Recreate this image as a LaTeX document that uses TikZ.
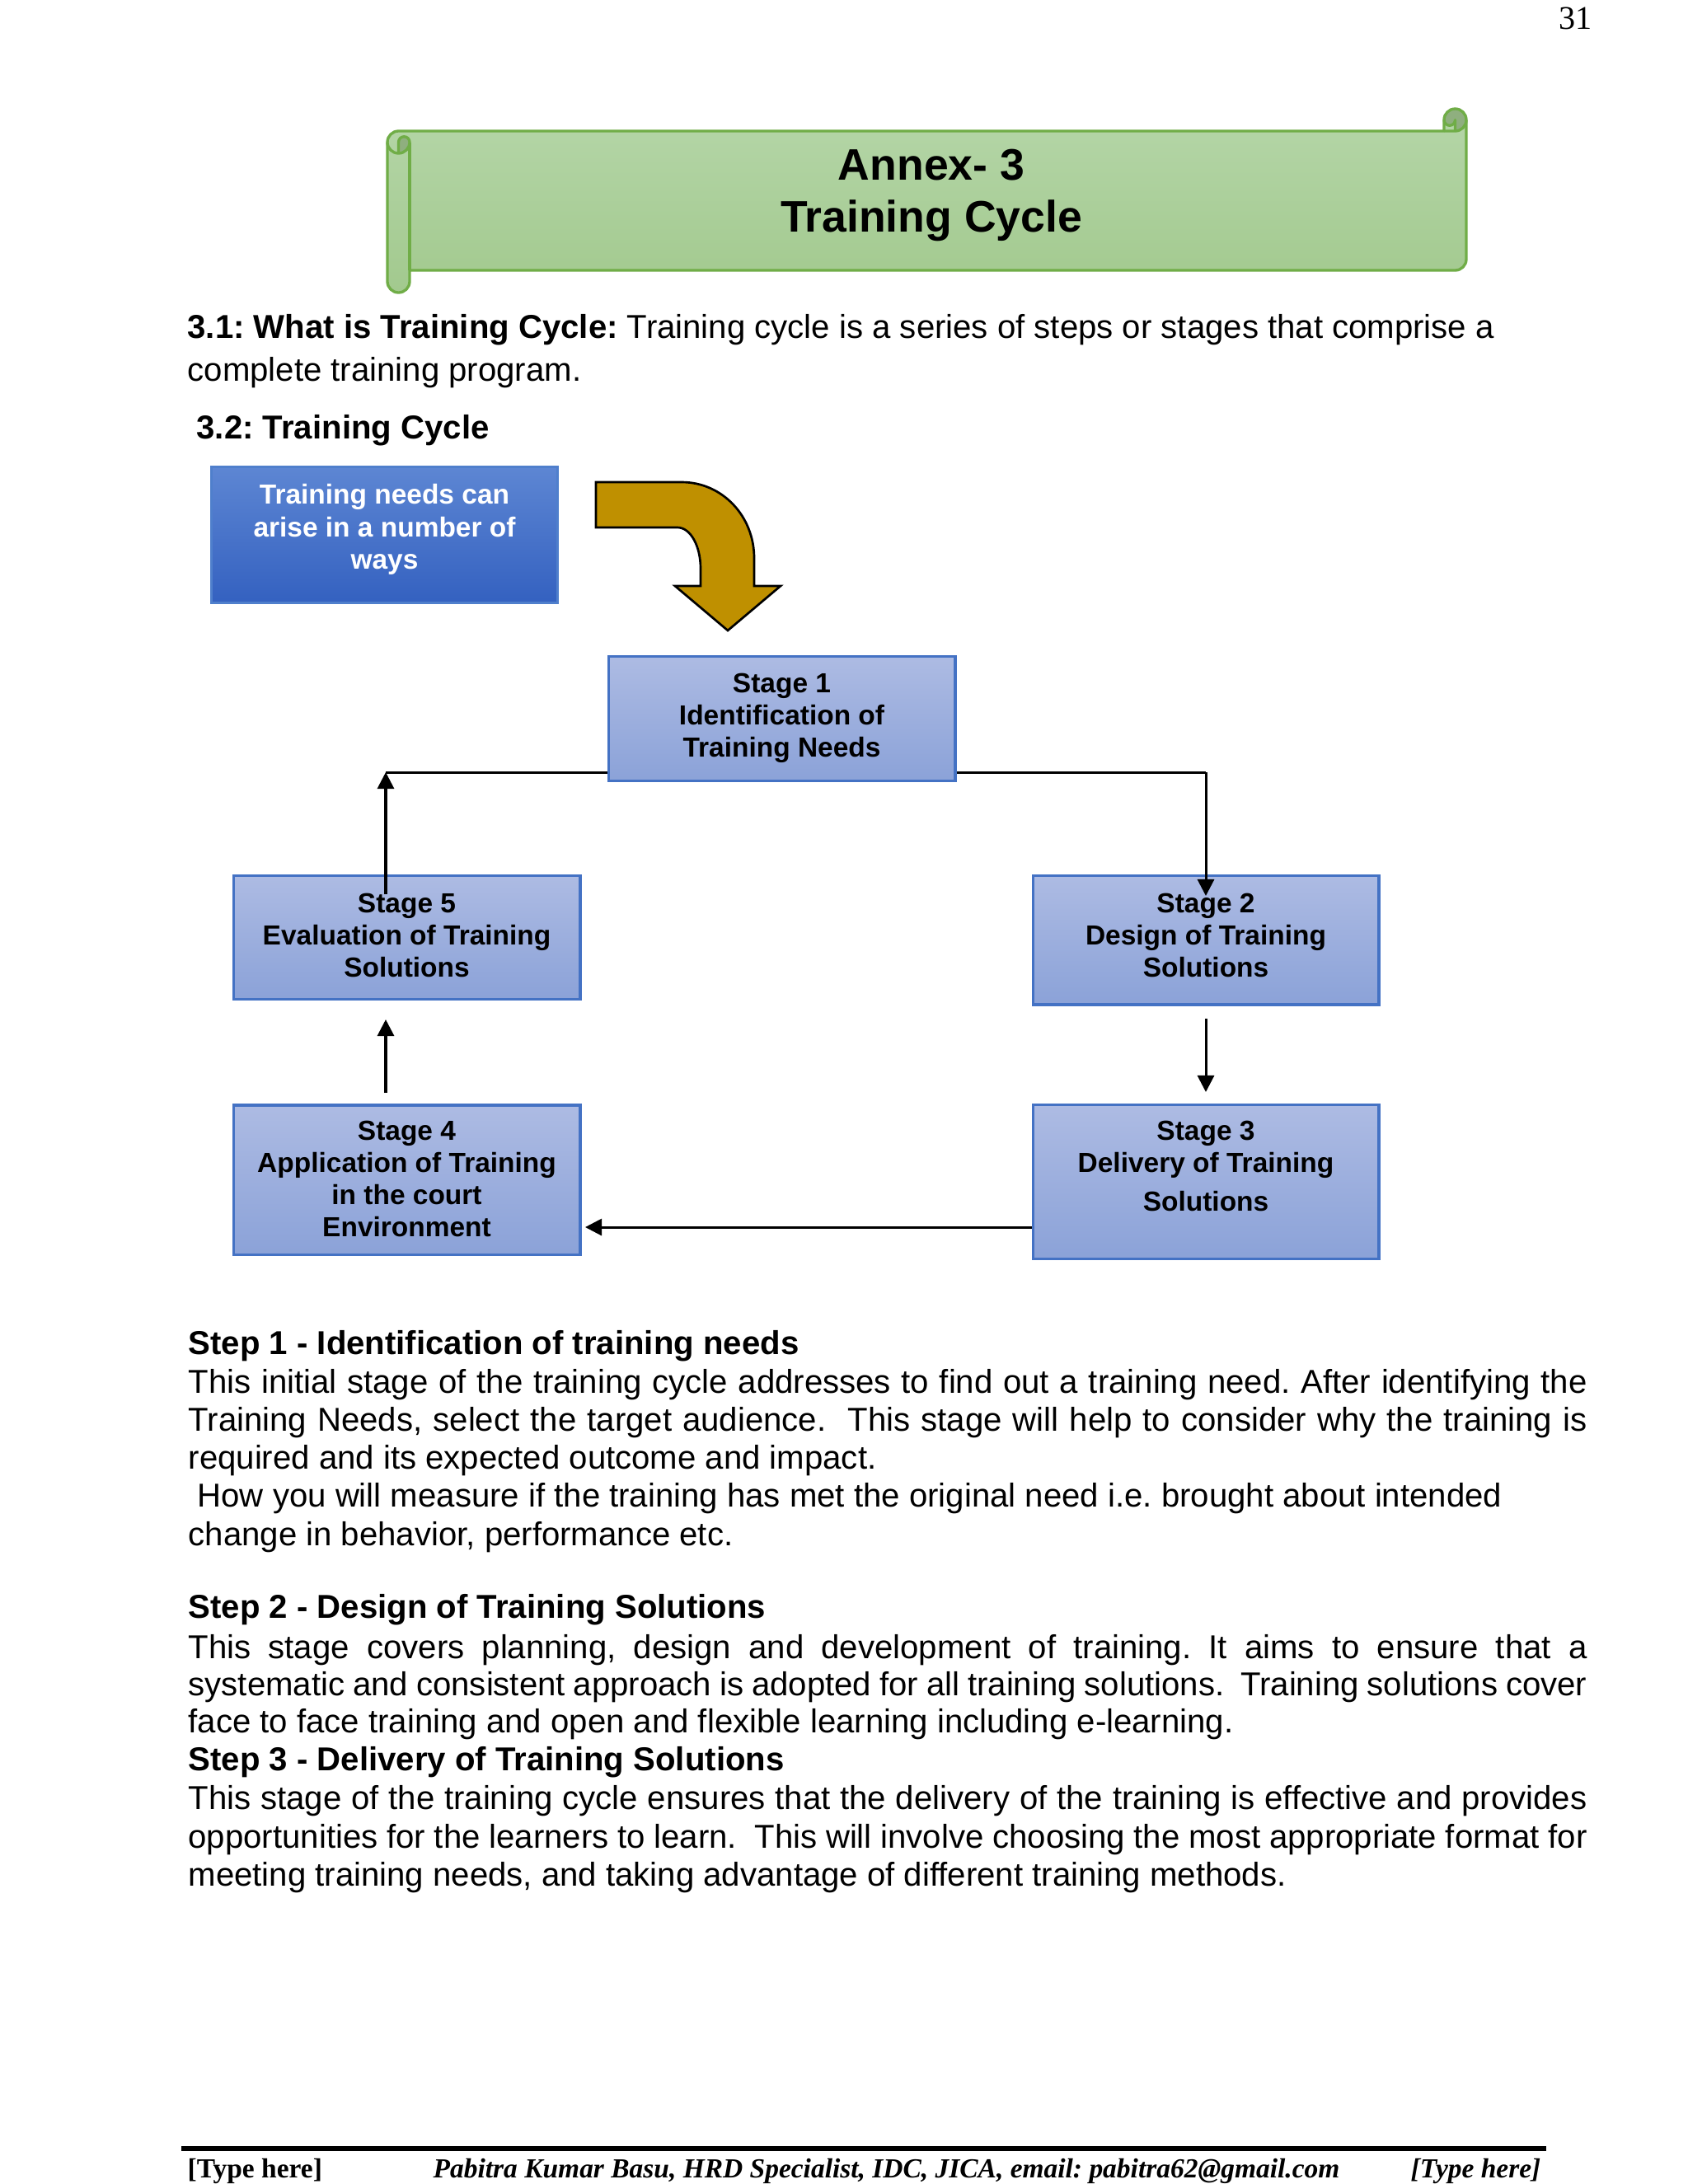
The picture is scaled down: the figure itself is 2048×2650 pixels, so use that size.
\documentclass[tikz,border=0pt]{standalone}
\usepackage{fontspec}
\setmainfont{Liberation Sans}
\newfontfamily\timesf{Liberation Serif}
\usetikzlibrary{arrows.meta}
\definecolor{scrollline}{HTML}{70AD47}
\definecolor{scrolltop}{HTML}{B5D6A8}
\definecolor{scrollbot}{HTML}{A2C98E}
\definecolor{scrolldark}{HTML}{8FAF7F}
\definecolor{stagetop}{HTML}{ADBBE3}
\definecolor{stagebot}{HTML}{8BA2D8}
\definecolor{stageline}{HTML}{4472C4}
\definecolor{needtop}{HTML}{5D86D3}
\definecolor{needbot}{HTML}{3461C0}
\definecolor{needline}{HTML}{4F7FCC}
\definecolor{arrowgold}{HTML}{BF9000}
\newcommand\jl[1]{\makebox[507.1pt][s]{#1}}
\frenchspacing
\begin{document}
\begin{tikzpicture}[x=0.298828pt,y=0.298828pt,
  stagebox/.style={draw=stageline, line width=0.9pt, top color=stagetop, bottom color=stagebot, inner sep=0pt, minimum width=125.8pt},
  needbox/.style={draw=needline, line width=0.9pt, top color=needtop, bottom color=needbot, inner sep=0pt, minimum width=125.8pt},
  stagetxt/.style={font=\fontsize{10}{11.7}\selectfont\bfseries, align=center, anchor=north, inner sep=0pt},
  body/.style={anchor=base west, inner sep=0pt, font=\fontsize{12}{14}\selectfont},
  head/.style={anchor=base west, inner sep=0pt, font=\fontsize{12}{14}\selectfont\bfseries},
  foot/.style={inner sep=0pt, font=\timesf\fontsize{10}{12}\selectfont\bfseries},
  ln/.style={line width=0.9pt},
  arr/.style={line width=0.9pt, -{Triangle[width=6pt,length=6pt]}}
]
\def\ra{4.034pt}
\def\rb{2.017pt}
\fill[white] (0,0) rectangle (2048,-2650);
\useasboundingbox (0,0) rectangle (2048,-2650);

% page number
\node[anchor=base west, inner sep=0pt, font=\timesf\fontsize{12}{14}\selectfont] (pnum) at (1891,-35) {31};

% scroll banner
\path[top color=scrolltop,bottom color=scrollbot] (470,-172.5) arc[start angle=180,end angle=90,radius=\ra] -- (1752,-159) -- (1752,-145.5) arc[start angle=180,end angle=0,radius=\ra] -- (1779,-314.5) arc[start angle=0,end angle=-90,radius=\ra] -- (497,-328) -- (497,-341.5) arc[start angle=0,end angle=-180,radius=\ra] -- cycle;
\fill[scrolldark] (483.5,-186) arc[start angle=-90,end angle=0,radius=\ra] arc[start angle=0,end angle=180,radius=\rb] -- cycle;
\fill[scrolldark] (1765.5,-159) arc[start angle=-90,end angle=180,radius=\ra] arc[start angle=180,end angle=360,radius=\rb] -- cycle;
\begin{scope}[draw=scrollline, line width=1pt, line join=round]
\draw (470,-172.5) arc[start angle=180,end angle=90,radius=\ra] -- (1752,-159) -- (1752,-145.5) arc[start angle=180,end angle=0,radius=\ra] -- (1779,-314.5) arc[start angle=0,end angle=-90,radius=\ra] -- (497,-328) -- (497,-341.5) arc[start angle=0,end angle=-180,radius=\ra] -- cycle;
\draw (1752,-159) -- (1765.5,-159) arc[start angle=-90,end angle=0,radius=\ra];
\draw (1765.5,-159) -- (1765.5,-145.5) arc[start angle=0,end angle=-180,radius=\rb];
\draw (483.5,-186) -- (483.5,-172.5) arc[start angle=180,end angle=0,radius=\rb] arc[start angle=0,end angle=-180,radius=\ra];
\draw (497,-172.5) -- (497,-328);
\end{scope}
\node[anchor=base, inner sep=0pt, font=\fontsize{16}{18}\selectfont\bfseries] (annex) at (1130,-218) {Annex- 3};
\node[anchor=base, inner sep=0pt, font=\fontsize{16}{18}\selectfont\bfseries] (title) at (1130,-281) {Training Cycle};

% intro text
\node[body] (p1a) at (227,-410) {\textbf{3.1: What is Training Cycle:} Training cycle is a series of steps or stages that comprise a};
\node[body] (p1b) at (227,-462) {complete training program.};
\node[head] (h32) at (238,-532) {3.2: Training Cycle};

% diagram
\node[needbox, minimum height=49.3pt] (need) at (466.5,-649) {};
\node[stagetxt, text=white] (needt) at (466.5,-587) {Training needs can\\arise in a number of\\ways};

\draw[fill=arrowgold, line width=0.8pt, line join=miter] (723,-585) -- (827,-585) .. controls (876,-585) and (915,-626) .. (915,-677) -- (915,-711) -- (947,-711) -- (883,-765) -- (819,-711) -- (850,-711) -- (850,-690) .. controls (850,-662) and (837.5,-640) .. (822,-640) -- (723,-640) -- cycle;

\node[stagebox, minimum height=45.4pt] (s1) at (948.5,-872) {};
\node[stagebox, minimum height=46.9pt, minimum width=125.5pt] (s2) at (1463,-1140.5) {};
\node[stagebox, minimum height=55.6pt, minimum width=125.5pt] (s3) at (1463,-1434) {};
\node[stagebox, minimum height=54.1pt] (s4) at (493.5,-1431.5) {};
\node[stagebox, minimum height=45.1pt] (s5) at (493.5,-1137.5) {};

\coordinate (c51) at (468,-937);
\coordinate (c5in) at (468,-1085);
\coordinate (c12) at (1463,-937);
\coordinate (c2in) at (1463,-1087);
\coordinate (a45s) at (468,-1326);
\coordinate (a45e) at (468,-1237);
\coordinate (a23s) at (1463,-1236);
\coordinate (a23e) at (1463,-1325);
\coordinate (c34) at (710,-1489);

\draw[arr] (c5in) -- (c51);
\draw[ln] (c51) -- (c51 -| s1.west);
\draw[ln] (c12 -| s1.east) -- (c12);
\draw[arr] (c12) -- (c2in);
\draw[arr] (a23s) -- (a23e);
\draw[arr] (a45s) -- (a45e);
\draw[arr] (c34 -| s3.west) -- (c34);

\node[stagetxt] (s1t) at (948.5,-816) {Stage 1\\Identification of\\Training Needs};
\node[stagetxt] (s5t) at (493.5,-1083) {Stage 5\\Evaluation of Training\\Solutions};
\node[stagetxt] (s2t) at (1463,-1083) {Stage 2\\Design of Training\\Solutions};
\node[stagetxt] (s4t) at (493.5,-1359) {Stage 4\\Application of Training\\in the court\\Environment};
\node[stagetxt] (s3t) at (1463,-1359) {Stage 3\\Delivery of Training\\[2.4pt]Solutions};

% steps
\node[head] (h1) at (228,-1643) {Step 1 - Identification of training needs};
\node[body] (l11) at (228,-1690) {\jl{This initial stage of the training cycle addresses to find out a training need.\ After identifying the}};
\node[body] (l12) at (228,-1736) {\jl{Training Needs, select the target audience.\ \ This stage will help to consider why the training is}};
\node[body] (l13) at (228,-1782) {required and its expected outcome and impact.};
\node[body] (l14) at (239,-1828) {How you will measure if the training has met the original need i.e. brought about intended};
\node[body] (l15) at (228,-1875) {change in behavior, performance etc.};

\node[head] (h2) at (228,-1963) {Step 2 - Design of Training Solutions};
\node[body] (l21) at (228,-2012) {\jl{This stage covers planning, design and development of training. It aims to ensure that a}};
\node[body] (l22) at (228,-2057) {\jl{systematic and consistent approach is adopted for all training solutions.\ \ Training solutions cover}};
\node[body] (l23) at (228,-2102) {face to face training and open and flexible learning including e-learning.};

\node[head] (h3) at (228,-2148) {Step 3 - Delivery of Training Solutions};
\node[body] (l31) at (228,-2195) {\jl{This stage of the training cycle ensures that the delivery of the training is effective and provides}};
\node[body] (l32) at (228,-2242) {\jl{opportunities for the learners to learn.\ \ This will involve choosing the most appropriate format for}};
\node[body] (l33) at (228,-2288) {meeting training needs, and taking advantage of different training methods.};

% footer
\draw[line width=1.8pt] (220,-2607) -- (1876,-2607);
\node[foot, anchor=base west] (f1) at (227,-2642) {[Type here]};
\node[foot, anchor=base west] (f2) at (525,-2642) {\itshape Pabitra Kumar Basu, HRD Specialist, IDC, JICA, email: pabitra62@gmail.com};
\node[foot, anchor=base east] (f3) at (1870,-2642) {\itshape [Type here]};
\end{tikzpicture}
\end{document}
